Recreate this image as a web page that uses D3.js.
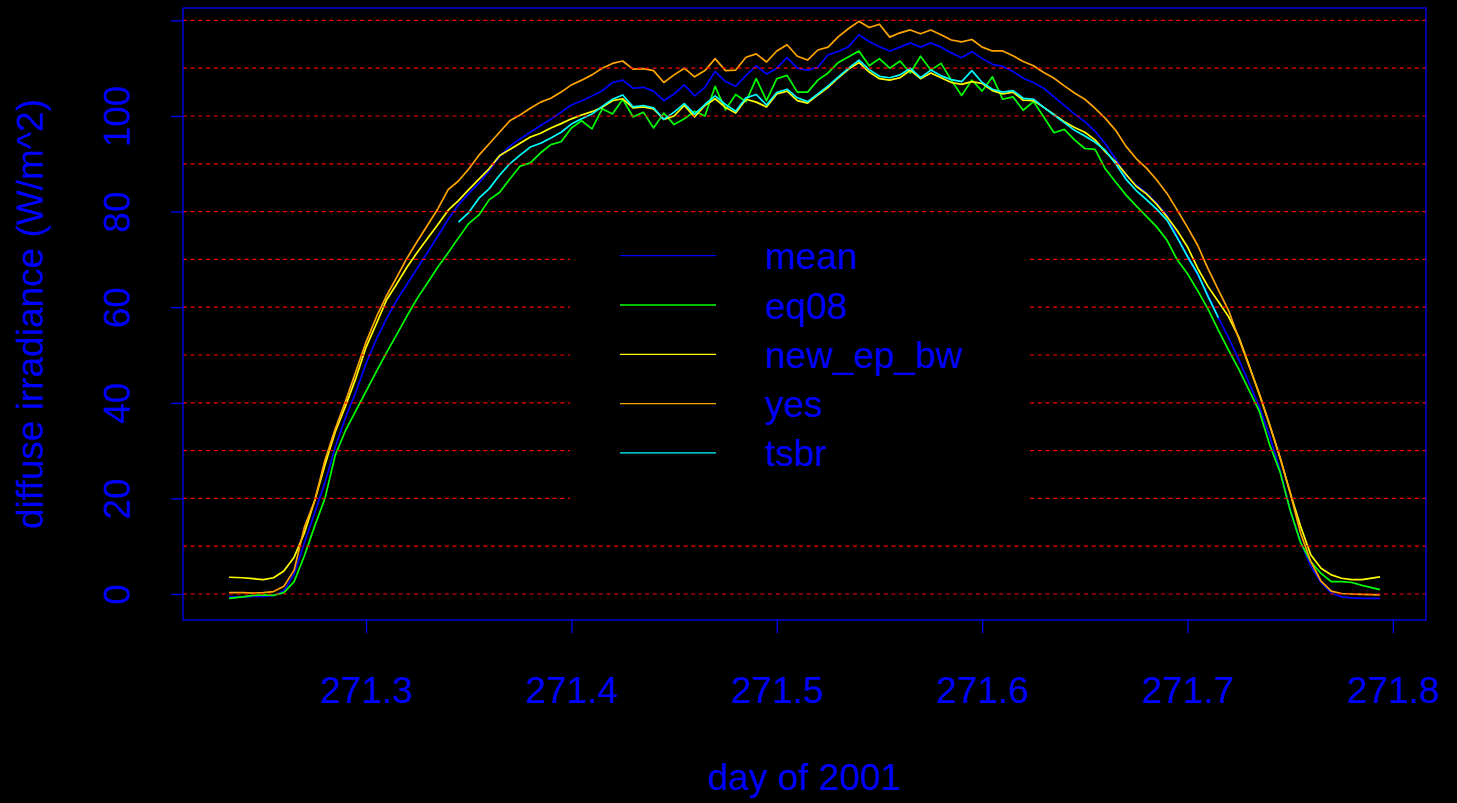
<!DOCTYPE html>
<html><head><meta charset="utf-8">
<script src="https://cdn.jsdelivr.net/npm/d3@7"></script>
<style>html,body{margin:0;padding:0;background:#000;overflow:hidden}</style>
</head><body>
<svg id="c" width="1457" height="803"></svg>
<script>
const xDays = [271.2333,271.240,271.245,271.250,271.255,271.260,271.265,271.270,271.275,271.280,
271.285,271.290,271.295,271.300,271.305,271.310,271.315,271.320,271.325,271.330,
271.335,271.340,271.345,271.350,271.355,271.360,271.365,271.370,271.375,271.380,
271.385,271.390,271.395,271.400,271.405,271.410,271.415,271.420,271.425,271.430,
271.435,271.440,271.445,271.450,271.455,271.460,271.465,271.470,271.475,271.480,
271.485,271.490,271.495,271.500,271.505,271.510,271.515,271.520,271.525,271.530,
271.535,271.540,271.545,271.550,271.555,271.560,271.565,271.570,271.575,271.580,
271.585,271.590,271.595,271.600,271.605,271.610,271.615,271.620,271.625,271.630,
271.635,271.640,271.645,271.650,271.655,271.660,271.665,271.670,271.675,271.680,
271.685,271.690,271.695,271.700,271.705,271.710,271.715,271.720,271.725,271.730,
271.735,271.740,271.745,271.750,271.755,271.760,271.765,271.770,271.775,271.780,
271.785,271.7937];

const mean = [-0.6,-0.6,-0.5,-0.5,-0.3,0.6,4.2,10.7,17.0,23.3,
30.7,36.9,42.2,48.2,53.3,57.6,61.5,64.8,68.2,71.5,
74.9,78.4,81.4,83.8,86.0,88.6,91.5,93.7,95.2,96.6,
98.0,99.3,100.8,102.3,103.2,104.2,105.3,107.0,107.5,105.8,
106.0,105.2,103.2,104.6,106.5,104.2,106.0,109.3,107.2,106.2,
108.5,110.5,108.8,110.0,112.2,110.0,109.6,110.2,112.8,113.5,
114.5,117.0,115.6,114.5,113.6,114.4,115.3,114.4,115.3,114.4,
113.2,112.2,113.5,112.0,110.8,110.4,109.3,107.9,107.0,105.8,
104.0,102.2,100.4,98.8,96.8,94.2,91.0,87.5,85.6,83.9,
81.7,79.2,74.7,70.6,66.7,62.5,57.8,53.6,49.0,44.1,
39.1,33.0,26.0,17.5,11.0,5.8,2.4,0.2,-0.6,-0.8,
-0.9,-0.9];

const eq08 = [-0.9,-0.6,-0.3,-0.2,-0.3,0.3,2.6,8.0,14.2,20.0,
29.0,34.2,38.3,42.4,46.5,50.5,54.3,58.2,61.9,65.1,
68.4,71.4,74.5,77.5,79.3,82.5,84.0,86.8,89.5,90.2,
92.3,94.0,94.6,97.5,99.0,97.3,101.5,100.4,103.5,99.8,
100.8,97.5,100.6,98.2,99.4,101.0,100.0,106.2,101.3,104.5,
103.0,107.8,103.2,107.8,108.5,105.0,105.0,107.5,109.0,111.2,
112.4,113.6,110.5,112.0,110.0,111.5,109.0,112.5,109.6,111.0,
107.5,104.3,107.5,105.2,108.2,103.5,104.0,101.2,103.0,99.8,
96.5,97.2,95.0,93.2,93.0,88.9,86.2,83.5,81.2,79.0,
76.8,74.0,69.9,67.0,63.4,59.6,55.2,51.0,47.0,42.6,
38.2,31.2,25.6,17.5,10.8,6.8,4.3,2.6,2.6,2.4,
1.8,0.9];

const newEpBw = [3.5,3.4,3.2,3.0,3.4,4.8,7.7,12.8,19.5,27.0,
33.9,39.3,45.1,51.6,56.5,61.5,64.9,68.4,71.5,74.4,
77.3,80.3,82.3,84.6,86.8,89.0,91.7,93.0,94.3,95.6,
96.4,97.5,98.4,99.4,100.2,100.9,101.8,103.2,103.6,101.7,
101.9,101.5,99.3,100.0,102.2,99.8,102.2,103.6,101.8,100.6,
103.5,102.9,101.9,104.6,105.2,103.2,102.7,104.4,106.0,108.0,
109.8,111.2,109.2,107.8,107.5,108.0,109.6,107.8,109.0,108.0,
107.0,106.6,107.2,106.8,105.3,104.6,105.0,103.3,103.2,101.8,
100.3,98.8,97.6,96.6,95.0,92.5,90.4,87.8,85.3,83.7,
81.5,78.9,76.0,72.6,68.1,64.3,61.2,58.0,53.7,47.8,
41.7,35.3,28.6,21.2,14.2,8.2,5.4,4.0,3.3,3.0,
3.0,3.6];

const yes = [0.3,0.3,0.2,0.3,0.5,1.6,5.0,14.0,19.5,28.0,
34.5,40.3,46.5,52.7,57.9,62.4,66.3,70.3,73.8,77.2,
80.6,84.6,86.4,88.9,91.8,94.2,96.6,99.0,100.2,101.6,
102.9,103.7,105.0,106.5,107.5,108.6,110.0,111.0,111.5,109.8,
109.9,109.5,107.0,108.6,110.0,108.2,109.5,112.0,109.5,109.6,
112.3,113.0,111.3,113.6,114.9,112.5,111.7,113.8,114.4,116.6,
118.3,119.8,118.5,119.2,116.5,117.4,118.0,117.2,118.0,117.0,
115.9,115.5,116.0,114.4,113.6,113.6,112.6,111.4,110.5,109.1,
107.9,106.3,104.8,103.5,101.6,99.5,97.0,93.7,91.1,89.1,
86.6,83.8,80.3,76.7,72.9,68.0,63.6,59.3,53.4,47.6,
41.9,35.4,28.6,21.1,12.8,6.8,2.7,0.6,0.1,0.0,
-0.1,-0.2];

const tsbr = [null,null,null,null,null,null,null,null,null,null,
null,null,null,null,null,null,null,null,null,null,
null,null,77.8,79.8,82.8,84.8,87.6,90.0,91.8,93.5,
94.3,95.4,96.6,98.3,99.4,100.4,102.0,103.5,104.4,101.9,
102.2,101.7,99.3,100.8,102.6,100.4,102.4,104.2,102.4,101.0,
103.8,104.5,102.3,104.9,105.6,103.8,103.0,104.6,106.3,108.2,
110.0,111.7,109.7,108.3,108.0,108.6,110.0,108.0,109.6,108.4,
107.6,107.2,109.5,107.0,105.6,105.0,105.3,103.7,103.5,101.8,
100.2,98.6,97.0,95.8,94.5,92.8,90.0,86.8,84.4,82.5,
80.5,78.2,74.5,70.6,67.0,62.2,57.8,null,null,null,
null,null,null,null,null,null,null,null,null,null,
null,null];

const seriesNames = ["mean","eq08","new_ep_bw","yes","tsbr"];
const seriesValues = [mean, eq08, newEpBw, yes, tsbr];
const seriesColors = ["#0000ff","#00ff00","#ffff00","#ffa500","#00ffff"];
const xTicks = [271.3,271.4,271.5,271.6,271.7,271.8];
const yTicks = [0,20,40,60,80,100,120];
const yTickLabels = ["0","20","40","60","80","100",""];
const gridValues = [0,10,20,30,40,50,60,70,80,90,100,110,120];
const xTitle = "day of 2001";
const yTitle = "diffuse irradiance (W/m^2)";

const FONT = "'Liberation Sans', Arial, Helvetica, sans-serif";
const FS = 37;
const BLUE = "#0000ff";
const box = {left:183, right:1426, top:8, bottom:620};

const svg = d3.select("#c");
svg.append("rect").attr("width",1457).attr("height",803).attr("fill","#000");

// R-style 4% padding on x
const xmin = d3.min(xDays), xmax = d3.max(xDays), xr = xmax - xmin;
const x = d3.scaleLinear().domain([xmin - 0.04*xr, xmax + 0.04*xr]).range([box.left, box.right]);
const y = d3.scaleLinear().domain([-5.44, 122.59]).range([box.bottom, box.top]);

// series lines
const line = d3.line()
  .defined(d => d.v !== null)
  .x(d => x(d.x)).y(d => y(d.v));
seriesValues.forEach((vals, i) => {
  const pts = xDays.map((d, k) => ({x: d, v: vals[k]}));
  svg.append("path").datum(pts)
    .attr("d", line)
    .attr("fill","none")
    .attr("stroke", seriesColors[i])
    .attr("stroke-width", 1.7)
    .attr("stroke-linejoin","round");
});

// grid lines
svg.append("g").selectAll("line").data(gridValues).join("line")
  .attr("x1", box.left).attr("x2", box.right)
  .attr("y1", d => y(d)).attr("y2", d => y(d))
  .attr("stroke", "#ff0000").attr("stroke-width", 1.2)
  .attr("stroke-dasharray", "4,3.7");

// box
svg.append("rect").attr("x", box.left).attr("y", box.top)
  .attr("width", box.right - box.left).attr("height", box.bottom - box.top)
  .attr("fill","none").attr("stroke", BLUE).attr("stroke-width", 1.3);

// x axis
const gx = svg.append("g").attr("transform", `translate(0,${box.bottom})`)
  .call(d3.axisBottom(x).tickValues(xTicks).tickSize(13).tickFormat(d3.format(".1f")));
gx.select(".domain").remove();
gx.selectAll(".tick line").attr("stroke", BLUE).attr("stroke-width", 1.3);
gx.selectAll(".tick text").attr("y", 83).attr("dy", 0)
  .attr("fill", BLUE).style("font-family", FONT).style("font-size", FS + "px");

// y axis
const gy = svg.append("g").attr("transform", `translate(${box.left},0)`)
  .call(d3.axisLeft(y).tickValues(yTicks).tickSize(12).tickFormat((d, i) => yTickLabels[i]));
gy.select(".domain").remove();
gy.selectAll(".tick line").attr("stroke", BLUE).attr("stroke-width", 1.3);
gy.selectAll(".tick text").attr("x", 0).attr("dy", 0).attr("y", 0)
  .attr("transform", "translate(-53,0) rotate(-90)")
  .attr("text-anchor", "middle")
  .attr("fill", BLUE).style("font-family", FONT).style("font-size", FS + "px");

// titles
svg.append("text").attr("x", (box.left + box.right) / 2).attr("y", 790)
  .attr("text-anchor","middle").attr("fill", BLUE)
  .style("font-family", FONT).style("font-size", FS + "px").text(xTitle);
svg.append("text")
  .attr("transform", `translate(43,${(box.top + box.bottom) / 2}) rotate(-90)`)
  .attr("text-anchor","middle").attr("fill", BLUE)
  .style("font-family", FONT).style("font-size", FS + "px").text(yTitle);

// legend
const lg = svg.append("g");
lg.append("rect").attr("x", 570).attr("y", 222).attr("width", 460).attr("height", 283).attr("fill", "#000");
seriesNames.forEach((name, i) => {
  const ly = 255.7 + i * 49.3;
  lg.append("line").attr("x1", 620).attr("x2", 716).attr("y1", ly).attr("y2", ly)
    .attr("stroke", seriesColors[i]).attr("stroke-width", 1.3);
  lg.append("text").attr("x", 765).attr("y", ly + 13.5).attr("fill", BLUE)
    .style("font-family", FONT).style("font-size", FS + "px").text(name);
});
</script>
</body></html>
